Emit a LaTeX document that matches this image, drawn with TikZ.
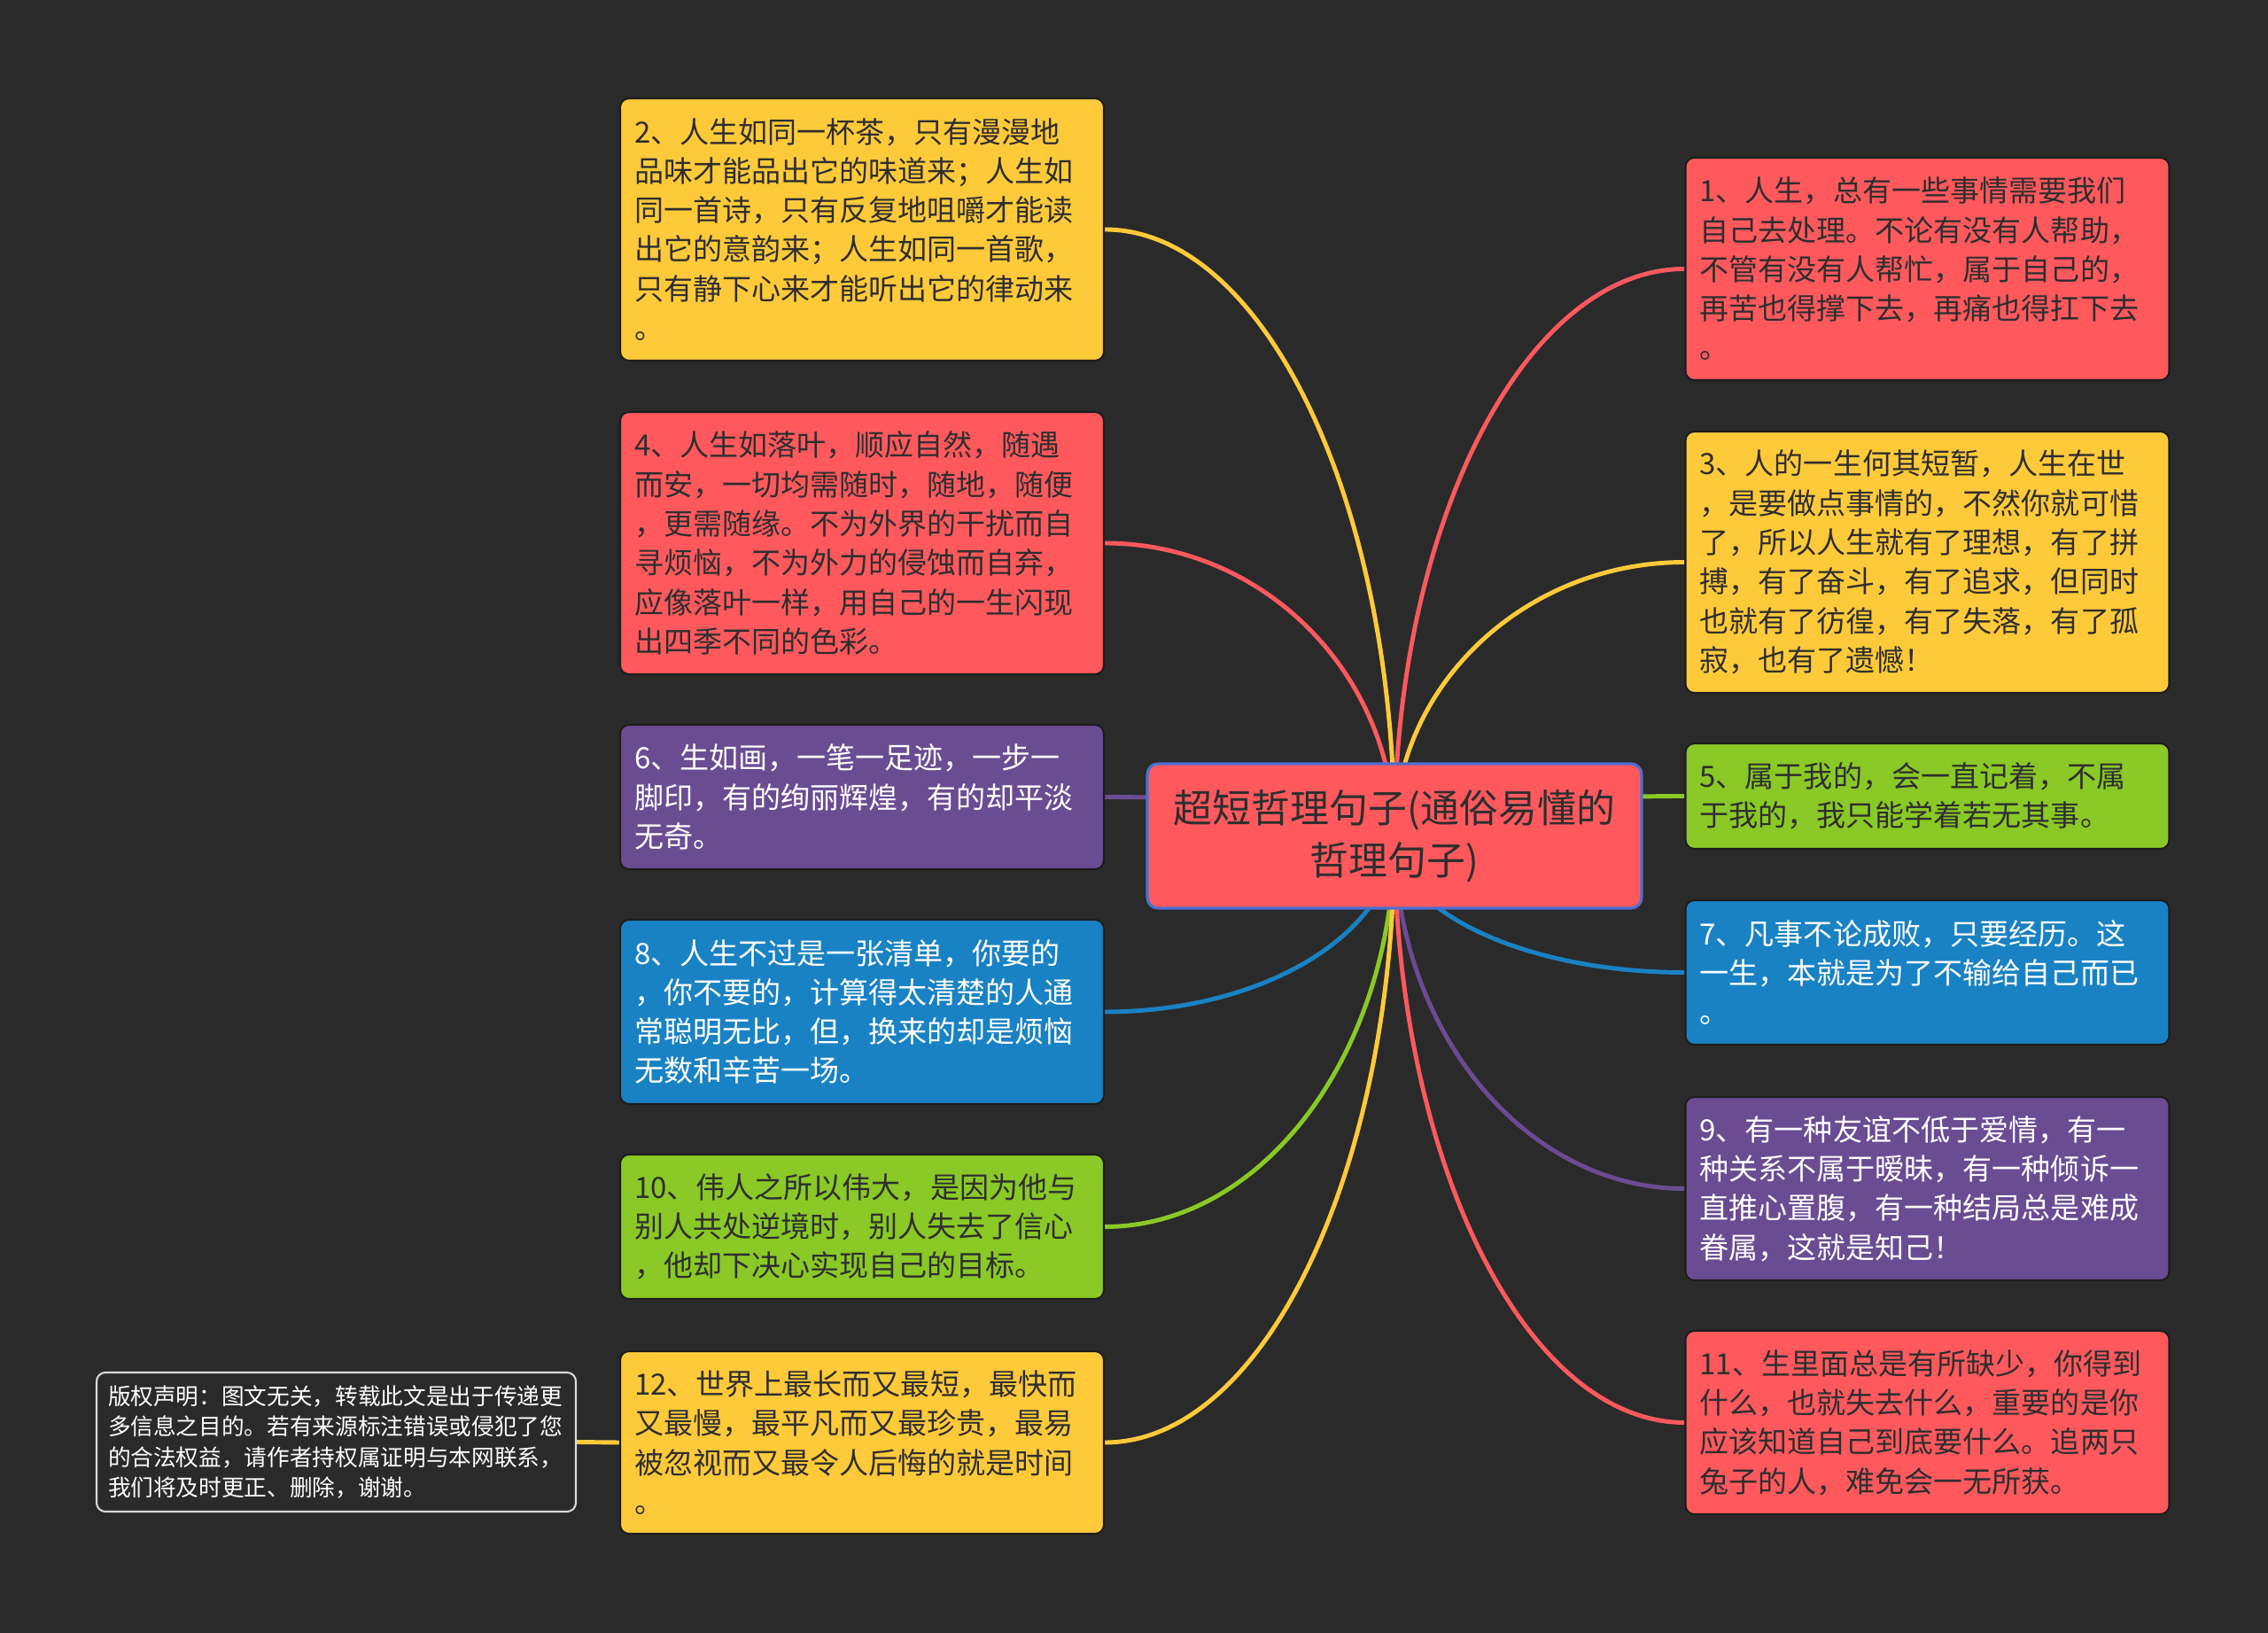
\documentclass[tikz,border=0pt]{standalone}
\usepackage{fontspec}
\setmainfont{Noto Sans CJK SC}
\usetikzlibrary{calc}
\definecolor{pagebg}{HTML}{2A2A2A}
\definecolor{edge}{HTML}{1C1C1C}
\definecolor{ink}{HTML}{2E2E2E}
\definecolor{cRed}{HTML}{FF595E}
\definecolor{cYellow}{HTML}{FFCA3A}
\definecolor{cGreen}{HTML}{8AC926}
\definecolor{cBlue}{HTML}{1982C4}
\definecolor{cPurple}{HTML}{6A4C93}
\definecolor{rootedge}{HTML}{4C6FCF}
\pgfdeclarelayer{back}
\pgfsetlayers{back,main}
\begin{document}
\begin{tikzpicture}[x=1cm, y=-1cm, line join=round, line cap=round,
	box/.style={draw=edge, line width=0.6pt, rounded corners=0.1cm, inner xsep=0.16cm, inner ysep=0pt,
		text width=5.14cm, align=left, text=ink, font=\fontsize{9.4}{12.6}\selectfont},
	light/.style={text=white},
	link/.style={line width=1.4pt}]
	\useasboundingbox (0,0) rectangle (25.6,18.43);
	\begin{pgfonlayer}{back}
		\fill[pagebg] (0,0) rectangle (25.6,18.43);
	\end{pgfonlayer}
	
	\node[draw=rootedge, line width=0.9pt, fill=cRed, rounded corners=0.12cm, minimum width=5.58cm, minimum height=1.63cm,
		align=center, text=ink, font=\fontsize{12.5}{16.8}\selectfont] (root) at (15.74,9.435)
		{超短哲理句子(通俗易懂的\\哲理句子)};
	
	\node[box, fill=cYellow, minimum height=2.96cm] (b2) at (9.73,2.59)
		{2、人生如同一杯茶，只有漫漫地\\品味才能品出它的味道来；人生如\\同一首诗，只有反复地咀嚼才能读\\出它的意韵来；人生如同一首歌，\\只有静下心来才能听出它的律动来\\。};
	\node[box, fill=cRed, minimum height=2.96cm] (b4) at (9.73,6.13)
		{4、人生如落叶，顺应自然，随遇\\而安，一切均需随时，随地，随便\\，更需随缘。不为外界的干扰而自\\寻烦恼，不为外力的侵蚀而自弃，\\应像落叶一样，用自己的一生闪现\\出四季不同的色彩。};
	\node[box, light, fill=cPurple, minimum height=1.63cm] (b6) at (9.73,8.995)
		{6、生如画，一笔一足迹，一步一\\脚印，有的绚丽辉煌，有的却平淡\\无奇。};
	\node[box, light, fill=cBlue, minimum height=2.08cm] (b8) at (9.73,11.42)
		{8、人生不过是一张清单，你要的\\，你不要的，计算得太清楚的人通\\常聪明无比，但，换来的却是烦恼\\无数和辛苦一场。};
	\node[box, fill=cGreen, minimum height=1.63cm] (b10) at (9.73,13.845)
		{10、伟人之所以伟大，是因为他与\\别人共处逆境时，别人失去了信心\\，他却下决心实现自己的目标。};
	\node[box, fill=cYellow, minimum height=2.06cm] (b12) at (9.73,16.28)
		{12、世界上最长而又最短，最快而\\又最慢，最平凡而又最珍贵，最易\\被忽视而又最令人后悔的就是时间\\。};
	
	\node[box, fill=cRed, minimum height=2.51cm] (b1) at (21.755,3.035)
		{1、人生，总有一些事情需要我们\\自己去处理。不论有没有人帮助，\\不管有没有人帮忙，属于自己的，\\再苦也得撑下去，再痛也得扛下去\\。};
	\node[box, fill=cYellow, minimum height=2.95cm] (b3) at (21.755,6.345)
		{3、人的一生何其短暂，人生在世\\，是要做点事情的，不然你就可惜\\了，所以人生就有了理想，有了拼\\搏，有了奋斗，有了追求，但同时\\也就有了彷徨，有了失落，有了孤\\寂，也有了遗憾！};
	\node[box, fill=cGreen, minimum height=1.19cm] (b5) at (21.755,8.985)
		{5、属于我的，会一直记着，不属\\于我的，我只能学着若无其事。};
	\node[box, light, fill=cBlue, minimum height=1.63cm] (b7) at (21.755,10.975)
		{7、凡事不论成败，只要经历。这\\一生，本就是为了不输给自己而已\\。};
	\node[box, light, fill=cPurple, minimum height=2.07cm] (b9) at (21.755,13.415)
		{9、有一种友谊不低于爱情，有一\\种关系不属于暧昧，有一种倾诉一\\直推心置腹，有一种结局总是难成\\眷属，这就是知己！};
	\node[box, fill=cRed, minimum height=2.07cm] (b11) at (21.755,16.055)
		{11、生里面总是有所缺少，你得到\\什么，也就失去什么，重要的是你\\应该知道自己到底要什么。追两只\\兔子的人，难免会一无所获。};
	
	\node[draw=white!85!black, line width=0.6pt, fill=pagebg, rounded corners=0.1cm, inner xsep=0.13cm, inner ysep=0pt,
		text width=5.15cm, minimum height=1.57cm, align=left, text=white, font=\fontsize{7.3}{9.7}\selectfont] (note) at (3.795,16.275)
		{版权声明：图文无关，转载此文是出于传递更\\多信息之目的。若有来源标注错误或侵犯了您\\的合法权益，请作者持权属证明与本网联系，\\我们将及时更正、删除，谢谢。};
	
	\begin{pgfonlayer}{back}
		\foreach \n/\a/\c in {b1/west/cRed, b2/east/cYellow, b3/west/cYellow, b4/east/cRed, b5/west/cGreen, b6/east/cPurple,
			b7/west/cBlue, b8/east/cBlue, b9/west/cPurple, b10/east/cGreen, b11/west/cRed, b12/east/cYellow}
		\draw[link, draw=\c] (root.center) .. controls ($(root.center)!.55!(root.center |- \n.\a)$)
			and ($(\n.\a)!.55!(root.center |- \n.\a)$) .. (\n.\a);
		\draw[link, draw=cYellow] (note.east) -- (b12.west);
	\end{pgfonlayer}
\end{tikzpicture}
\end{document}
